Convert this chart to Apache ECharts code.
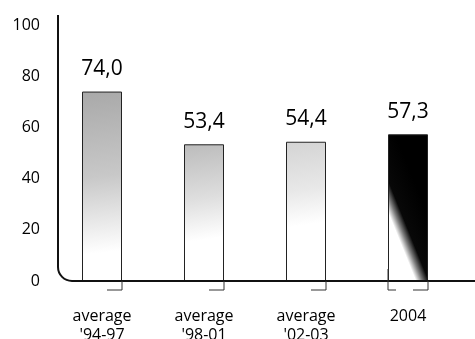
<!DOCTYPE html>
<html>
<head>
<meta charset="utf-8">
<script src="https://cdn.jsdelivr.net/npm/echarts@6/dist/echarts.min.js"></script>
<style>
  html, body { margin: 0; padding: 0; background: #fff; }
  #chart { width: 475px; height: 339px; }
</style>
</head>
<body>
<div id="chart"></div>
<script>
// Periods and their values
const categories = ["average\n'94-97", "average\n'98-01", "average\n'02-03", "2004"];
const values = [74.0, 53.4, 54.4, 57.3];
const yTicks = [0, 20, 40, 60, 80, 100];

const FONT = '"Open Sans", "Noto Sans", sans-serif';

const fills = [
  new echarts.graphic.LinearGradient(0.1, 0, 0.6, 1, [
    { offset: 0, color: '#a9a9a9' },
    { offset: 0.45, color: '#c8c8c8' },
    { offset: 0.85, color: '#ffffff' }
  ]),
  new echarts.graphic.LinearGradient(0.1, 0, 0.6, 1, [
    { offset: 0, color: '#bcbcbc' },
    { offset: 0.4, color: '#dedede' },
    { offset: 0.7, color: '#ffffff' }
  ]),
  new echarts.graphic.LinearGradient(0.1, 0, 0.6, 1, [
    { offset: 0, color: '#d4d4d4' },
    { offset: 0.35, color: '#e8e8e8' },
    { offset: 0.6, color: '#ffffff' }
  ]),
  // dark bar: black on top and along the right edge, white in the lower left
  new echarts.graphic.LinearGradient(1.12, 0.63, -0.27, 0.783, [
    { offset: 0, color: '#000000' },
    { offset: 0.4, color: '#080808' },
    { offset: 0.5, color: '#7a7a7a' },
    { offset: 0.6, color: '#ffffff' }
  ])
];

const chart = echarts.init(document.getElementById('chart'), null, { renderer: 'canvas' });

chart.setOption({
  animation: false,
  backgroundColor: '#ffffff',
  grid: { left: 51, right: 16, top: 25, bottom: 58, outerBoundsMode: 'none', containLabel: false },
  xAxis: {
    type: 'category',
    data: categories,
    axisLine: { show: false },
    axisTick: { show: false },
    axisLabel: {
      margin: 26,
      fontFamily: FONT,
      fontSize: 16,
      color: '#000',
      lineHeight: 19
    }
  },
  yAxis: {
    type: 'value',
    min: 0,
    max: 100,
    interval: 20,
    axisLine: { show: false },
    axisTick: { show: false },
    splitLine: { show: false },
    axisLabel: {
      margin: 11,
      fontFamily: FONT,
      fontSize: 16,
      color: '#000',
      formatter: v => (yTicks.includes(v) ? String(v) : '')
    }
  },
  series: [{
    type: 'bar',
    barWidth: 40,
    data: values.map((v, i) => ({
      value: v,
      itemStyle: {
        color: fills[i],
        borderColor: '#222',
        borderWidth: 1
      }
    })),
    label: {
      show: true,
      position: 'top',
      distance: 12,
      fontFamily: FONT,
      fontSize: 21,
      color: '#000',
      formatter: p => p.value.toFixed(1).replace('.', ',')
    }
  }]
});

// Rounded-corner axis frame and small brackets below each bar
function drawFrame() {
  const base = chart.convertToPixel({ yAxisIndex: 0 }, 0);
  const x0 = 58, r = 14;
  const stroke = { fill: null, stroke: '#111', lineWidth: 2 };
  const elements = [
    { type: 'polyline', shape: { points: [[x0, 15], [x0, base - r]] }, style: stroke, z: 10 },
    {
      type: 'arc',
      shape: { cx: x0 + r, cy: base - r, r: r, startAngle: Math.PI / 2, endAngle: Math.PI, clockwise: true },
      style: stroke, z: 10
    },
    { type: 'polyline', shape: { points: [[x0 + r, base], [475, base]] }, style: stroke, z: 10 }
  ];
  categories.forEach((c, i) => {
    const cx = chart.convertToPixel({ xAxisIndex: 0 }, i);
    const right = cx + 20;
    elements.push({
      type: 'polyline',
      shape: { points: [[right - 15, base + 9], [right, base + 9], [right, base]] },
      style: { fill: null, stroke: '#333', lineWidth: 1 },
      z: 10
    });
    if (i === categories.length - 1) {
      elements.push({
        type: 'polyline',
        shape: { points: [[cx - 20, base - 12], [cx - 20, base + 9], [cx - 12, base + 9]] },
        style: { fill: null, stroke: '#333', lineWidth: 1 },
        z: 10
      });
    }
  });
  chart.setOption({ graphic: elements });
}
drawFrame();
</script>
</body>
</html>
